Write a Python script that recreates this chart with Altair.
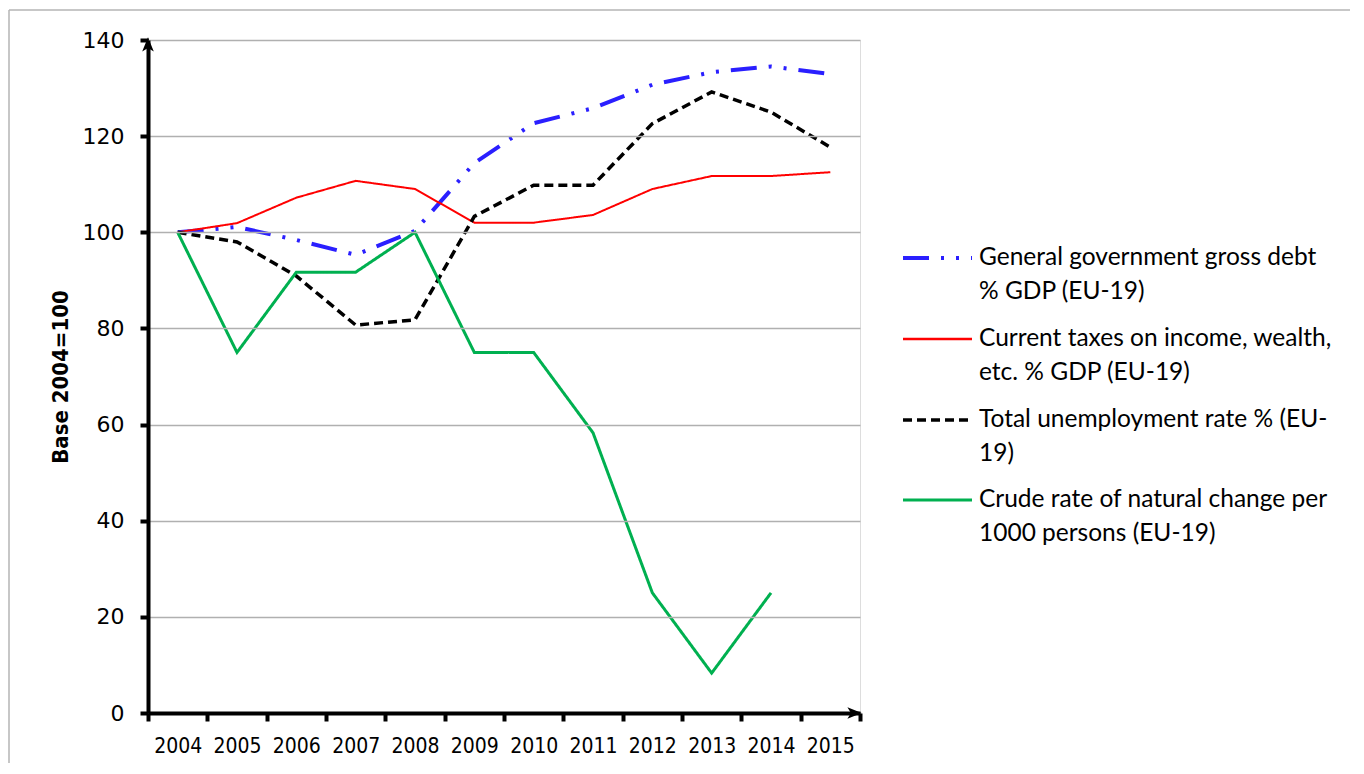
import altair as alt
import pandas as pd

years = ["2004", "2005", "2006", "2007", "2008", "2009", "2010", "2011", "2012", "2013", "2014", "2015"]

debt = [100, 101.1, 98.4, 95.3, 100.3, 114.4, 122.7, 125.8, 130.7, 133.3, 134.5, 132.9]
taxes = [100, 101.9, 107.2, 110.7, 109.0, 102.0, 102.0, 103.6, 109.0, 111.7, 111.7, 112.5]
unemp = [100, 98.0, 90.9, 80.7, 81.8, 103.3, 109.8, 109.8, 122.6, 129.2, 125.0, 117.7]
natural = [100, 75.0, 91.7, 91.7, 100, 75.0, 75.0, 58.3, 25.0, 8.3, 25.0, None]

series_names = [
    "General government gross debt % GDP (EU-19)",
    "Current taxes on income, wealth, etc. % GDP (EU-19)",
    "Total unemployment rate % (EU-19)",
    "Crude rate of natural change per 1000 persons (EU-19)",
]
legend_labels = [
    "General government gross debt\n% GDP (EU-19)",
    "Current taxes on income, wealth,\netc. % GDP (EU-19)",
    "Total unemployment rate % (EU-\n19)",
    "Crude rate of natural change per\n1000 persons (EU-19)",
]
colors = ["#2a1fff", "#ff0000", "#000000", "#00b050"]
dashes = [[26, 12, 3, 12, 3, 12], [1, 0], [9, 5], [1, 0]]
widths = [4, 2, 3.5, 3]

rows = []
for name, vals in zip(series_names, [debt, taxes, unemp, natural]):
    for y, v in zip(years, vals):
        if v is not None:
            rows.append({"year": y, "series": name, "value": v})
df = pd.DataFrame(rows)

W, H = 712, 673
narrow = "Liberation Sans Narrow, DejaVu Sans Condensed, sans-serif"

x_enc = alt.X(
    "year:O",
    sort=years,
    bandPosition=0.5,
    scale=alt.Scale(type="band", paddingInner=0, paddingOuter=0, domain=years),
    axis=alt.Axis(
        title=None, labelAngle=0, labelFontSize=21, labelFont=narrow,
        labelColor="black", labelPadding=14, tickBand="extent", tickColor="black", tickWidth=4,
        tickSize=8, domainColor="black", domainWidth=4, grid=False, zindex=1,
    ),
)
y_enc = alt.Y(
    "value:Q",
    scale=alt.Scale(domain=[0, 140], nice=False),
    axis=alt.Axis(
        title="Base 2004=100", values=list(range(0, 141, 20)), labelFontSize=22,
        labelFont="DejaVu Sans", labelColor="black", labelPadding=16, tickColor="black",
        tickWidth=4, tickSize=8, domainColor="black", domainWidth=4, grid=True,
        gridColor="#b0b0b0", gridWidth=1.5, zindex=1,
        titleFont=narrow, titleFontSize=22,
        titleFontWeight="bold", titleColor="black", titleAngle=270, titleX=-88, titleY=H / 2,
        titleAlign="center", titleBaseline="middle",
    ),
)

layers = []
base = alt.Chart(df)
for i, name in enumerate(series_names):
    layers.append(
        base.transform_filter(alt.datum.series == name)
        .mark_line(color=colors[i], strokeDash=dashes[i], strokeWidth=widths[i], strokeCap="butt")
        .encode(x=x_enc, y=y_enc)
    )

leg_df = pd.DataFrame({"series": series_names, "label": legend_labels})
leg_y = [218, 299, 380, 460]
for i, name in enumerate(series_names):
    src = alt.Chart(leg_df).transform_filter(alt.datum.series == name)
    layers.append(
        src.mark_rule(color=colors[i], strokeDash=dashes[i], strokeWidth=widths[i] if i != 1 else 2.5, strokeCap="butt")
        .encode(x=alt.value(755), x2=alt.value(824), y=alt.value(leg_y[i]))
    )
    layers.append(
        src.mark_text(align="left", baseline="top", lineBreak="\n", lineHeight=34, fontSize=24.5,
                      font="Lato", color="black")
        .encode(x=alt.value(831), y=alt.value(leg_y[i] - 12), text="label:N")
    )

one = alt.Chart(pd.DataFrame({"a": [0]}))
# arrowheads on axes
layers.append(
    one.mark_point(shape="M0,-1L0.75,0.85L0,0.4L-0.75,0.85Z", filled=True, color="black", opacity=1, size=240)
    .encode(x=alt.value(0), y=alt.value(5))
)
layers.append(
    one.mark_point(shape="M1,0L-0.85,0.75L-0.4,0L-0.85,-0.75Z", filled=True, color="black", opacity=1, size=240)
    .encode(x=alt.value(706), y=alt.value(H))
)
# outer frame
layers.append(
    one.mark_rule(color="#b4b4b4", strokeWidth=1.5)
    .encode(x=alt.value(-139), x2=alt.value(1216), y=alt.value(-30))
)
layers.append(
    one.mark_rule(color="#b4b4b4", strokeWidth=1.5)
    .encode(x=alt.value(-139), y=alt.value(-30), y2=alt.value(740))
)

chart = (
    alt.layer(*layers)
    .properties(
        width=W, height=H,
        autosize=alt.AutoSizeParams(type="none"),
        padding={"left": 140, "top": 32, "right": 490, "bottom": 50},
    )
    .configure_view(stroke=None)
    .configure(background="white")
)

chart.save("out.html", embed_options={"renderer": "svg", "actions": False})
